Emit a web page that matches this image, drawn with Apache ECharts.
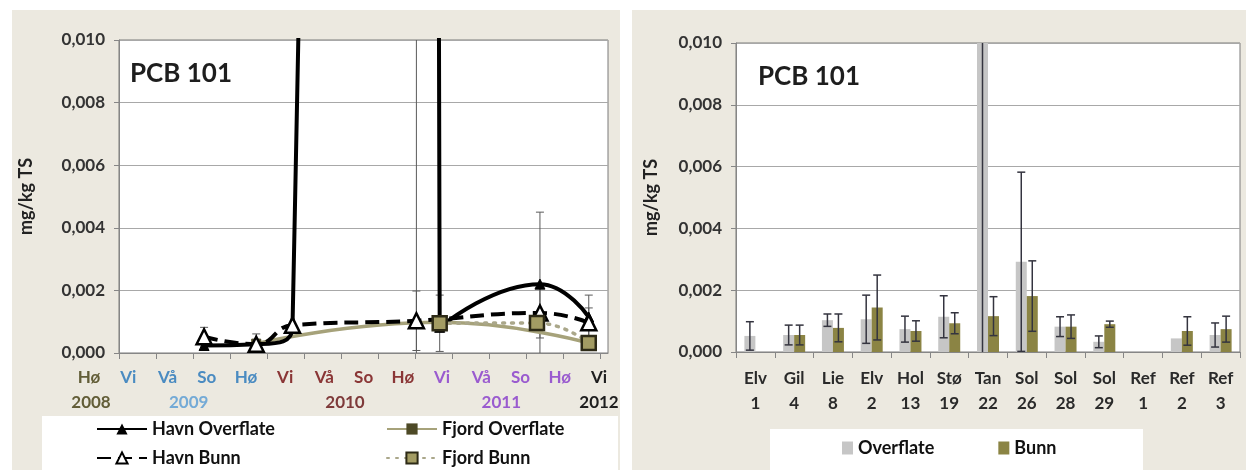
<!DOCTYPE html>
<html><head><meta charset="utf-8">
<script src="https://cdn.jsdelivr.net/npm/echarts@6/dist/echarts.min.js"></script>
<style>
html,body{margin:0;padding:0;background:#fff;width:1246px;height:470px;overflow:hidden;position:relative;}
.panel{position:absolute;background:#ece9e0;}
.box{position:absolute;background:#fff;}
#c{position:absolute;left:0;top:0;width:1246px;height:470px;}
</style>
</head><body>
<div class="panel" style="left:12px;top:10px;width:608px;height:460px"></div>
<div class="panel" style="left:632px;top:10px;width:614px;height:460px"></div>
<div class="box" style="left:42px;top:416px;width:576px;height:54px"></div>
<div class="box" style="left:770px;top:429px;width:373px;height:41px"></div>
<div id="c"></div>
<script>
// ===== Left chart: sampling seasons =====
const seasons     = ['Hø','Vi','Vå','So','Hø','Vi','Vå','So','Hø','Vi','Vå','So','Hø','Vi'];
const seasonYears = ['2008','2009','2009','2009','2009','2010','2010','2010','2010','2011','2011','2011','2011','2012'];
// sampling time (in season index units) and PCB 101 (mg/kg TS)
const havnOverflateX  = [2.30, 3.71, 4.69, 8.04, 8.67, 11.38, 12.70];
const havnOverflate   = [0.00024, 0.00028, 0.0008, 0.3, 0.00082, 0.0022, 0.00115];
const havnOverflateSd = [null, null, null, 0.35, null, 0.0023, 0.0007];
const havnBunnX       = [2.30, 3.71, 4.69, 8.04, 11.38, 12.70];
const havnBunn        = [0.00052, 0.00028, 0.00089, 0.00103, 0.00128, 0.00097];
const havnBunnSd      = [0.0003, 0.00033, null, 0.00095, 0.0008, 0.00047];
const fjordOverflateX = [3.71, 8.67, 12.70];
const fjordOverflate  = [0.0003, 0.00098, 0.00032];
const fjordBunnX      = [8.67, 11.30, 12.70];
const fjordBunn       = [0.00095, 0.00096, 0.00032];
const fjordBunnSd     = [0.0009, null, null];
// ===== Right chart: stations =====
const siteNames   = ['Elv','Gil','Lie','Elv','Hol','Stø','Tan','Sol','Sol','Sol','Ref','Ref','Ref'];
const siteNumbers = ['1','4','8','2','13','19','22','26','28','29','1','2','3'];
const overflate   = [0.00052, 0.00055, 0.00103, 0.00106, 0.00074, 0.00114, 0.04, 0.00292, 0.00082, 0.00033, null, 0.00044, 0.00055];
const overflateSd = [0.00046, 0.00032, 0.0002, 0.00078, 0.00042, 0.00068, 0.05, 0.0029, 0.00032, 0.00019, null, null, 0.00039];
const bunn        = [null, 0.00055, 0.00078, 0.00144, 0.00068, 0.00093, 0.00116, 0.00181, 0.00082, 0.0009, null, 0.00068, 0.00074];
const bunnSd      = [null, 0.00032, 0.00045, 0.00105, 0.00033, 0.00034, 0.00063, 0.00114, 0.00038, 0.0001, null, 0.00046, 0.00042];
// ===== Axis =====
const yMin = 0, yMax = 0.010, yStep = 0.002;
const yTitle = 'mg/kg TS';
const chartTitle = 'PCB 101';

const FONT = 'Lato';
const yearColor = {'2008':'#625d37','2009':'#4a8bc1','2010':'#8a3636','2011':'#9a5bcf','2012':'#1e1e1e'};
const yearLabelColor = {'2008':'#625d37','2009':'#74aad6','2010':'#7e3a3a','2011':'#9a5bcf','2012':'#1e1e1e'};
const rich = {}, richY = {};
Object.keys(yearColor).forEach(y => {
  rich['y'+y] = {color: yearColor[y], fontFamily: FONT, fontWeight: 'bold', fontSize: 17};
  richY['y'+y] = {color: yearLabelColor[y], fontFamily: FONT, fontWeight: 'bold', fontSize: 17};
});
const seasonIdx = seasons.map((s, i) => i);
const uniqYears = [...new Set(seasonYears)];
const yearCenters = uniqYears.map(y => {
  const idx = seasonIdx.filter(i => seasonYears[i] === y);
  return idx.reduce((a, b) => a + b, 0) / idx.length;
});
const pairs = (xs, ys) => xs.map((x, i) => [x, ys[i]]);
const errData = (xs, ys, sds) => xs.map((x, i) => [x, ys[i], sds[i]]).filter(d => d[1] != null && d[2] != null);
const fmtY = v => v.toFixed(3).replace('.', ',');

function errRender(offset, color, lw, capW) {
  return function (params, api) {
    const x = api.value(0), v = api.value(1), sd = api.value(2);
    const hi = v + sd, lo = v - sd;
    const pHi = api.coord([x, Math.min(hi, yMax)]);
    const pLo = api.coord([x, Math.max(lo, yMin)]);
    const cx = pHi[0] + offset;
    const st = {stroke: color, lineWidth: lw};
    const ch = [{type: 'line', shape: {x1: cx, y1: pHi[1], x2: cx, y2: pLo[1]}, style: st}];
    if (hi <= yMax) ch.push({type: 'line', shape: {x1: cx - capW, y1: pHi[1], x2: cx + capW, y2: pHi[1]}, style: st});
    if (lo >= yMin) ch.push({type: 'line', shape: {x1: cx - capW, y1: pLo[1], x2: cx + capW, y2: pLo[1]}, style: st});
    return {type: 'group', children: ch};
  };
}

const axisLabelStyle = {fontFamily: FONT, fontWeight: 'bold', fontSize: 17, color: '#333'};
const yAxisBase = (grid, gap) => ({
  type: 'value', gridIndex: grid, min: yMin, max: yMax, interval: yStep,
  name: yTitle, nameLocation: 'middle', nameGap: gap, nameRotate: 90,
  nameTextStyle: {fontFamily: FONT, fontWeight: 'bold', fontSize: 18, color: '#222'},
  axisLine: {show: true, lineStyle: {color: '#868686'}},
  axisTick: {show: true, length: 5, lineStyle: {color: '#868686'}},
  axisLabel: Object.assign({formatter: fmtY, margin: 14}, axisLabelStyle),
  splitLine: {show: true, lineStyle: {color: '#a8a8a8', width: 1}}
});

const legendText = {fontFamily: FONT, fontWeight: 'bold', fontSize: 18, color: '#111'};
const lineLegend = (name, left, top) => ({
  data: [name], left, top, itemWidth: 50, itemHeight: 14, itemGap: 0, padding: 0,
  textStyle: legendText, selectedMode: false
});

const option = {
  animation: false,
  backgroundColor: 'transparent',
  title: [
    {text: chartTitle, left: 130, top: 61, padding: 0, textStyle: {fontFamily: FONT, fontWeight: 'bold', fontSize: 26, color: '#1e1e1e'}},
    {text: chartTitle, left: 758, top: 64, padding: 0, textStyle: {fontFamily: FONT, fontWeight: 'bold', fontSize: 26, color: '#1e1e1e'}}
  ],
  legend: [
    lineLegend('Havn Overflate', 96, 420),
    lineLegend('Havn Bunn', 96, 449),
    lineLegend('Fjord Overflate', 386, 420),
    lineLegend('Fjord Bunn', 386, 449),
    {data: ['Overflate', 'Bunn'], left: 842, top: 439, itemWidth: 11, itemHeight: 13, itemGap: 64, padding: 0,
     icon: 'rect', textStyle: legendText, selectedMode: false}
  ],
  grid: [
    {left: 119, top: 40, width: 489, height: 313, show: true, backgroundColor: '#fff', borderColor: '#7a7a7a', borderWidth: 1},
    {left: 89, top: 353, width: 510, height: 1},
    {left: 91, top: 353, width: 508, height: 1},
    {left: 736, top: 43, width: 504, height: 309, show: true, backgroundColor: '#fff', borderColor: '#7a7a7a', borderWidth: 1}
  ],
  xAxis: [
    {type: 'value', gridIndex: 0, min: 0, max: 13.22,
     axisLine: {show: true, lineStyle: {color: '#868686'}},
     axisTick: {show: true, length: 6, customValues: seasonIdx, lineStyle: {color: '#868686'}},
     axisLabel: {show: false}, splitLine: {show: false}},
    {type: 'value', gridIndex: 1, min: 0, max: seasons.length - 1,
     axisLine: {show: false}, axisTick: {show: false}, splitLine: {show: false},
     axisLabel: {customValues: seasonIdx, margin: 15, fontFamily: FONT, fontWeight: 'bold', fontSize: 17,
       formatter: v => { const i = Math.round(v); return '{y' + seasonYears[i] + '|' + seasons[i] + '}'; }, rich: rich}},
    {type: 'value', gridIndex: 2, min: 0, max: seasons.length - 1,
     axisLine: {show: false}, axisTick: {show: false}, splitLine: {show: false},
     axisLabel: {customValues: yearCenters, margin: 40, fontFamily: FONT, fontWeight: 'bold', fontSize: 17,
       formatter: v => { let k = 0, best = 1e9; yearCenters.forEach((c, j) => { if (Math.abs(c - v) < best) { best = Math.abs(c - v); k = j; } });
         return '{y' + uniqYears[k] + '|' + uniqYears[k] + '}'; }, rich: richY}},
    {type: 'category', gridIndex: 3, data: siteNames.map((n, i) => n + '\n' + siteNumbers[i]),
     axisLine: {show: true, lineStyle: {color: '#868686'}},
     axisTick: {show: true, length: 6, interval: 0, lineStyle: {color: '#868686'}},
     axisLabel: {interval: 0, margin: 14, lineHeight: 25, fontFamily: FONT, fontWeight: 'bold', fontSize: 17, color: '#2a2a2a'}}
  ],
  yAxis: [
    yAxisBase(0, 84),
    {type: 'value', gridIndex: 1, show: false},
    {type: 'value', gridIndex: 2, show: false},
    yAxisBase(3, 76)
  ],
  series: [
    // ---- left chart ----
    {type: 'custom', xAxisIndex: 0, yAxisIndex: 0, z: 1, clip: true, silent: true,
     renderItem: errRender(0, '#5a5a5a', 1, 4), data: errData(havnOverflateX, havnOverflate, havnOverflateSd)},
    {type: 'custom', xAxisIndex: 0, yAxisIndex: 0, z: 1, clip: true, silent: true,
     renderItem: errRender(0, '#5a5a5a', 1, 4), data: errData(havnBunnX, havnBunn, havnBunnSd)},
    {type: 'custom', xAxisIndex: 0, yAxisIndex: 0, z: 1, clip: true, silent: true,
     renderItem: errRender(0, '#5a5a5a', 1, 4), data: errData(fjordBunnX, fjordBunn, fjordBunnSd)},
    {name: 'Fjord Overflate', type: 'line', xAxisIndex: 0, yAxisIndex: 0, smooth: true, z: 2,
     data: pairs(fjordOverflateX, fjordOverflate), symbol: 'rect', symbolSize: 9,
     lineStyle: {color: '#a6a27a', width: 3.5}, itemStyle: {color: '#4d4926', borderColor: '#4d4926'}},
    {name: 'Havn Overflate', type: 'line', xAxisIndex: 0, yAxisIndex: 0, smooth: true, z: 3,
     data: pairs(havnOverflateX, havnOverflate), symbol: 'triangle', symbolSize: 10,
     lineStyle: {color: '#000', width: 4}, itemStyle: {color: '#000', borderColor: '#000'}},
    {name: 'Havn Bunn', type: 'line', xAxisIndex: 0, yAxisIndex: 0, smooth: true, z: 4,
     data: pairs(havnBunnX, havnBunn), symbol: 'triangle', symbolSize: 15,
     lineStyle: {color: '#000', width: 4, type: [14, 7]},
     itemStyle: {color: '#fff', borderColor: '#000', borderWidth: 2.5}},
    {name: 'Fjord Bunn', type: 'line', xAxisIndex: 0, yAxisIndex: 0, smooth: true, z: 5,
     data: pairs(fjordBunnX, fjordBunn), symbol: 'rect', symbolSize: 14,
     lineStyle: {color: '#aaa78a', width: 3.5, type: [2, 7], cap: 'round'},
     itemStyle: {color: '#a39c63', borderColor: '#2d2a16', borderWidth: 2.5}},
    // ---- right chart ----
    {name: 'Overflate', type: 'bar', xAxisIndex: 3, yAxisIndex: 3, data: overflate, barWidth: 11, barGap: '0%',
     itemStyle: {color: '#c6c6c6'}},
    {name: 'Bunn', type: 'bar', xAxisIndex: 3, yAxisIndex: 3, data: bunn, barWidth: 11, barGap: '0%',
     itemStyle: {color: '#8b8444'}},
    {type: 'custom', xAxisIndex: 3, yAxisIndex: 3, z: 5, clip: true, silent: true,
     renderItem: errRender(-5.5, '#34343f', 1.5, 4),
     data: overflate.map((v, i) => [i, v, overflateSd[i]]).filter(d => d[1] != null && d[2] != null)},
    {type: 'custom', xAxisIndex: 3, yAxisIndex: 3, z: 5, clip: true, silent: true,
     renderItem: errRender(5.5, '#34343f', 1.5, 4),
     data: bunn.map((v, i) => [i, v, bunnSd[i]]).filter(d => d[1] != null && d[2] != null)}
  ]
};
const chart = echarts.init(document.getElementById('c'), null, {renderer: 'canvas'});
chart.setOption(option);
</script>
</body></html>
